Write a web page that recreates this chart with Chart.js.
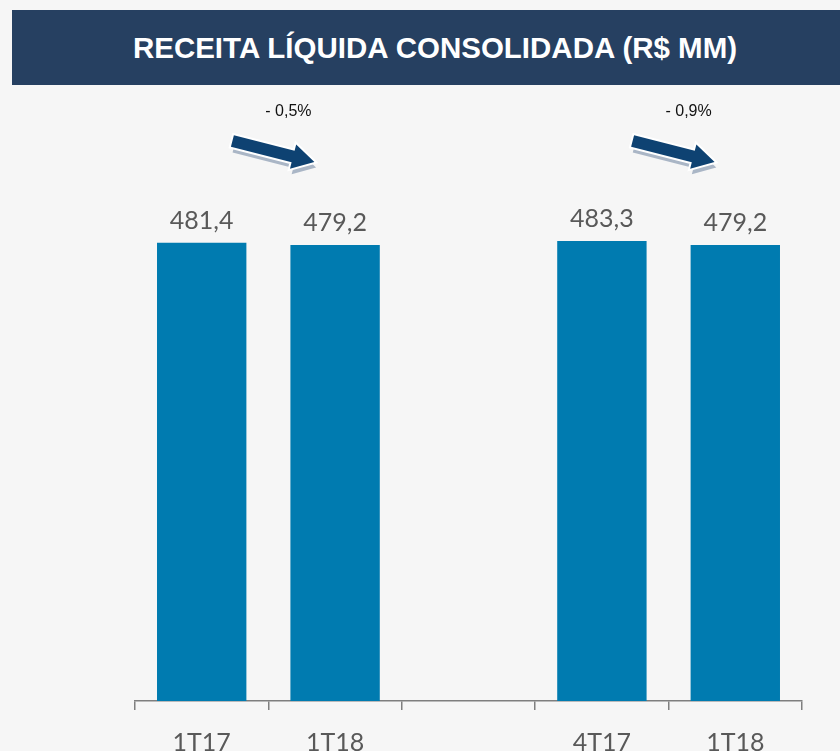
<!DOCTYPE html>
<html>
<head>
<meta charset="utf-8">
<script src="https://cdn.jsdelivr.net/npm/chart.js@4"></script>
<style>
  html, body { margin: 0; padding: 0; overflow: hidden; background: #f6f6f6; }
  #wrap { position: relative; width: 840px; height: 751px; overflow: hidden; }
  #banner {
    position: absolute; left: 12px; top: 10px; width: 828px; height: 75px;
    background: #264061; color: #fff;
    font: bold 29.5px "Liberation Sans", Arial, sans-serif;
    display: flex; align-items: center; justify-content: center;
    padding-left: 18px; box-sizing: border-box;
  }
  canvas { position: absolute; left: 0; top: 0; }
</style>
</head>
<body>
<div id="wrap">
  <canvas id="receitaChart" width="840" height="780"></canvas>
  <div id="banner">RECEITA LÍQUIDA CONSOLIDADA (R$ MM)</div>
</div>
<script>
var categories = ['1T17', '1T18', '', '4T17', '1T18'];
var receita = [481.4, 479.2, null, 483.3, 479.2];
var pairs = [[0, 1], [3, 4]];
var variations = ['- 0,5%', '- 0,9%'];

function fmt(v) {
    return v.toFixed(1).replace('.', ',');
}

function drawArrow(ctx, x0, y0, x1, y1) {
    var ang = Math.atan2(y1 - y0, x1 - x0);
    var len = Math.hypot(x1 - x0, y1 - y0);
    var shape = function () {
        ctx.beginPath();
        ctx.moveTo(0, -6);
        ctx.lineTo(len - 22, -6);
        ctx.lineTo(len - 22, -12.5);
        ctx.lineTo(len, 0);
        ctx.lineTo(len - 22, 12.5);
        ctx.lineTo(len - 22, 6);
        ctx.lineTo(0, 6);
        ctx.closePath();
    };
    ctx.save();
    ctx.translate(x0, y0);
    ctx.rotate(ang);
    ctx.save();
    ctx.translate(3, 5);
    shape();
    ctx.fillStyle = '#aab6c6';
    ctx.fill();
    ctx.restore();
    shape();
    ctx.strokeStyle = '#ffffff';
    ctx.lineWidth = 4;
    ctx.lineJoin = 'miter';
    ctx.stroke();
    ctx.fillStyle = '#0e4272';
    ctx.fill();
    ctx.restore();
}

var valueLabels = {
    id: 'valueLabels',
    afterDatasetsDraw: function (chart) {
        var ctx = chart.ctx;
        var meta = chart.getDatasetMeta(0);
        ctx.save();
        ctx.font = '25px Lato, "Open Sans", sans-serif';
        ctx.fillStyle = '#595959';
        ctx.textAlign = 'center';
        ctx.textBaseline = 'alphabetic';
        meta.data.forEach(function (bar, i) {
            if (receita[i] == null) return;
            ctx.fillText(fmt(receita[i]), bar.x, bar.y - 14);
        });
        ctx.restore();
    }
};

var variationArrows = {
    id: 'variationArrows',
    afterDatasetsDraw: function (chart) {
        var ctx = chart.ctx;
        var xs = chart.scales.x;
        var top = chart.chartArea.top;
        pairs.forEach(function (p, k) {
            var mid = (xs.getPixelForValue(p[0]) + xs.getPixelForValue(p[1])) / 2;
            drawArrow(ctx, mid - 36, top + 11, mid + 46, top + 32);
            ctx.save();
            ctx.font = '16px "Liberation Sans", Arial, sans-serif';
            ctx.fillStyle = '#111';
            ctx.textAlign = 'center';
            ctx.textBaseline = 'middle';
            ctx.fillText(variations[k], mid + 20, top - 18);
            ctx.restore();
        });
    }
};

var ctx = document.getElementById('receitaChart').getContext('2d');

var receitaChart = new Chart(ctx, {
    type: 'bar',
    data: {
        labels: categories,
        datasets: [{
            data: receita,
            backgroundColor: '#007bb0',
            borderWidth: 0,
            categoryPercentage: 1,
            barPercentage: 0.67
        }]
    },
    options: {
        responsive: false,
        animation: false,
        layout: { padding: { left: 135, right: 38, top: 130, bottom: 0 } },
        plugins: {
            legend: { display: false },
            tooltip: { enabled: false }
        },
        scales: {
            y: { display: false, min: 0, max: 600 },
            x: {
                afterFit: function (scale) { scale.height = 79; },
                grid: {
                    offset: true,
                    drawOnChartArea: false,
                    drawTicks: true,
                    tickLength: 9,
                    color: '#7f7f7f',
                    lineWidth: 1.5
                },
                border: { display: true, color: '#7f7f7f', width: 1.5 },
                ticks: {
                    padding: 18,
                    color: '#595959',
                    font: { family: 'Lato, "Open Sans", sans-serif', size: 25 }
                }
            }
        }
    },
    plugins: [valueLabels, variationArrows]
});
</script>
</body>
</html>
